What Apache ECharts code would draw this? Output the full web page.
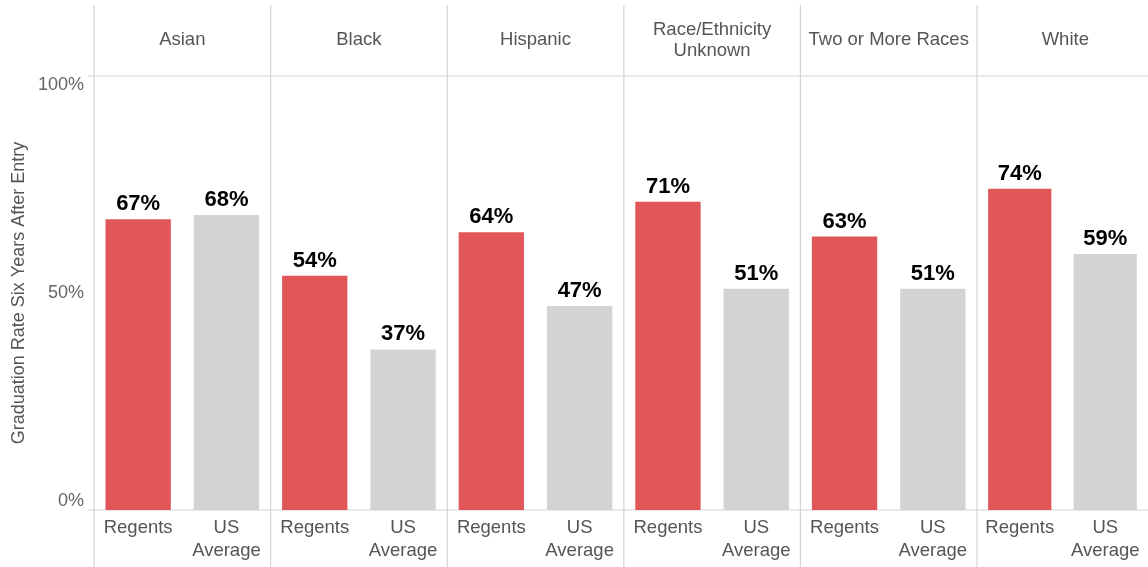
<!DOCTYPE html>
<html><head><meta charset="utf-8">
<script src="https://cdn.jsdelivr.net/npm/echarts@6/dist/echarts.min.js"></script>
<style>html,body{margin:0;padding:0;background:#fff}#c{width:1148px;height:567px}</style>
</head><body><div id="c"></div>
<script>
const groups = ['Asian','Black','Hispanic','Race/Ethnicity\nUnknown','Two or More Races','White'];
const barCategories = ['Regents','US\nAverage'];
const regents = [67,54,64,71,63,74];
const usAverage = [68,37,47,51,51,59];
const yTicks = ['0%','50%','100%'];

const chart = echarts.init(document.getElementById('c'));
const L0 = 94, W = 176.6, TOP = 76, BOT = 510, H = 567;
const FONT = '"Liberation Sans", Arial, sans-serif';
const lineCol = '#d4d4d4';
const grids = [], xAxes = [], yAxes = [], series = [], graphics = [];
groups.forEach((g, i) => {
  grids.push({left: L0 + i*W, top: TOP, width: W, height: BOT - TOP, containLabel: false});
  xAxes.push({type:'category', gridIndex:i, data: barCategories,
    axisLine:{show:false}, axisTick:{show:false},
    axisLabel:{color:'#555', fontSize:18.5, fontFamily:FONT, margin:6, lineHeight:23, interval:0}});
  yAxes.push({type:'value', gridIndex:i, min:0, max:100, interval:50,
    axisLine:{show:false}, axisTick:{show:false}, splitLine:{show:false},
    axisLabel:{show:i===0, color:'#666', fontSize:18, fontFamily:FONT, margin:10,
      formatter: v => yTicks[v/50],
      verticalAlignMinLabel:'bottom', verticalAlignMaxLabel:'top'},
    name: i===0 ? 'Graduation Rate Six Years After Entry' : '',
    nameLocation:'middle', nameGap:66, nameRotate:90,
    nameTextStyle:{color:'#555', fontSize:18, fontFamily:FONT}});
  series.push({type:'bar', xAxisIndex:i, yAxisIndex:i, barWidth:'74%',
    data:[{value:regents[i], itemStyle:{color:'#E15759'}},{value:usAverage[i], itemStyle:{color:'#D3D3D3'}}],
    label:{show:true, position:'top', distance:4, formatter: p => p.value + '%',
      color:'#000', fontSize:22, fontWeight:'bold', fontFamily:FONT},
    silent:true});
  graphics.push({type:'text', x: L0 + i*W + W/2, y: 40,
    style:{text: g, textAlign:'center', textVerticalAlign:'middle', fill:'#555', fontSize:18.5, fontFamily:FONT, lineHeight:21}});
  graphics.push({type:'line', shape:{x1:L0+i*W, y1:5, x2:L0+i*W, y2:H}, style:{stroke:lineCol, lineWidth:1.2}});
});
graphics.push({type:'line', shape:{x1:88, y1:TOP, x2:1148, y2:TOP}, style:{stroke:lineCol, lineWidth:1.2}});
graphics.push({type:'line', shape:{x1:88, y1:BOT, x2:1148, y2:BOT}, style:{stroke:lineCol, lineWidth:1.2}});

chart.setOption({
  animation:false,
  backgroundColor:'#fff',
  grid: grids, xAxis: xAxes, yAxis: yAxes, series: series,
  graphic: graphics
});
</script></body></html>
